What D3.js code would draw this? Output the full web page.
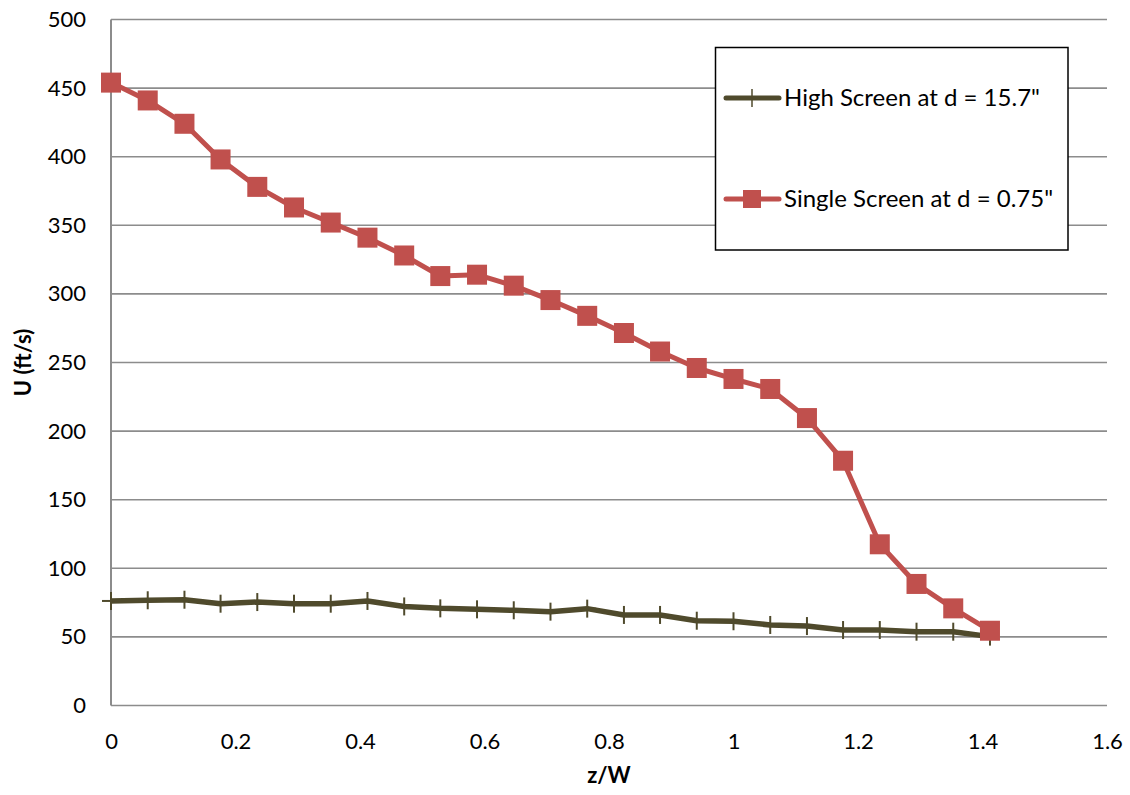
<!DOCTYPE html>
<html><head><meta charset="utf-8">
<script src="https://cdn.jsdelivr.net/npm/d3@7"></script>
<style>body{margin:0;background:#fff}svg{display:block}text{font-family:Lato,"Open Sans",sans-serif}</style>
</head><body><div id="c"></div>
<script>
const zw = [0,0.059,0.118,0.176,0.235,0.294,0.353,0.412,0.471,0.529,0.588,0.647,0.706,0.765,0.824,0.882,0.941,1.0,1.059,1.118,1.176,1.235,1.294,1.353,1.412];
const highScreen = [76.2,76.7,77.1,74.2,75.4,74.2,74.2,76.2,72.2,70.8,70.1,69.4,68.4,70.6,66,66,61.8,61.4,58.7,57.9,55,55,53.8,53.8,50.2];
const singleScreen = [454,441,424,398,378,363,352,341,328,313,314,306,295.5,284,271.5,258,246,238,230.7,209.5,178.4,117.5,88.6,70.8,54.5];
const seriesNames = ['High Screen at d = 15.7"','Single Screen at d = 0.75"'];
const xTicks = [0,0.2,0.4,0.6,0.8,1,1.2,1.4,1.6];
const yTicks = [0,50,100,150,200,250,300,350,400,450,500];

const W=1130,H=795, L=111, R=1107, T=19.5, B=705.5;
const svg=d3.select('#c').append('svg').attr('width',W).attr('height',H);
const x=d3.scaleLinear().domain([0,1.6]).range([L,R]);
const y=d3.scaleLinear().domain([0,500]).range([B,T]);

// gridlines
svg.append('g').selectAll('line').data(yTicks).join('line')
 .attr('x1',L).attr('x2',R).attr('y1',d=>y(d)).attr('y2',d=>y(d))
 .attr('stroke','#8c8c8c').attr('stroke-width',1.6);
svg.append('line').attr('x1',L).attr('x2',L).attr('y1',T).attr('y2',B).attr('stroke','#8c8c8c').attr('stroke-width',2);

// axes labels
const ya=svg.append('g').attr('transform',`translate(${L},0)`).call(d3.axisLeft(y).tickValues(yTicks).tickSize(0).tickPadding(25));
ya.select('.domain').remove();
ya.selectAll('text').attr('font-size',22).attr('fill','#000').attr('font-family','Lato');
const xa=svg.append('g').attr('transform',`translate(0,${B})`).call(d3.axisBottom(x).tickValues(xTicks).tickFormat(d3.format('~g')).tickSize(0));
xa.select('.domain').remove();
xa.selectAll('text').attr('font-size',22).attr('fill','#000').attr('font-family','Lato').attr('y',43.5).attr('dy',0);

svg.append('text').attr('x',(L+R)/2).attr('y',783).attr('text-anchor','middle').attr('font-size',22).attr('font-weight','bold').text('z/W');
svg.append('text').attr('transform',`translate(31,${(T+B)/2}) rotate(-90)`).attr('text-anchor','middle').attr('font-size',22).attr('font-weight','bold').text('U (ft/s)');

const dark='#4f4a2c', red='#c0504d';
const line=d3.line().x(d=>x(d[0])).y(d=>y(d[1]));
const hs=zw.map((z,i)=>[z,highScreen[i]]);
const ss=zw.map((z,i)=>[z,singleScreen[i]]);

svg.append('path').datum(hs).attr('d',line).attr('fill','none').attr('stroke',dark).attr('stroke-width',5.5).attr('stroke-linejoin','round');
const plus=svg.append('g').selectAll('g').data(hs).join('g').attr('transform',d=>`translate(${x(d[0])},${y(d[1])})`);
plus.append('line').attr('x1',0).attr('x2',0).attr('y1',-9).attr('y2',9).attr('stroke',dark).attr('stroke-width',2);
plus.append('line').attr('x1',-9).attr('x2',9).attr('y1',0).attr('y2',0).attr('stroke',dark).attr('stroke-width',2);

svg.append('path').datum(ss).attr('d',line).attr('fill','none').attr('stroke',red).attr('stroke-width',5).attr('stroke-linejoin','round');
svg.append('g').selectAll('rect').data(ss).join('rect')
 .attr('x',d=>x(d[0])-10).attr('y',d=>y(d[1])-10).attr('width',20).attr('height',20).attr('fill',red);

// legend
const lg=svg.append('g');
lg.append('rect').attr('x',715.5).attr('y',47.5).attr('width',352.5).attr('height',202.5).attr('fill','#fff').attr('stroke','#000').attr('stroke-width',1.5);
const entries=[{n:seriesNames[0],c:dark,y:98,m:'plus'},{n:seriesNames[1],c:red,y:199,m:'sq'}];
entries.forEach(e=>{
  lg.append('line').attr('x1',726).attr('x2',779).attr('y1',e.y).attr('y2',e.y).attr('stroke',e.c).attr('stroke-width',5).attr('stroke-linecap','round');
  if(e.m==='plus') lg.append('line').attr('x1',752).attr('x2',752).attr('y1',e.y-9).attr('y2',e.y+9).attr('stroke',e.c).attr('stroke-width',1.5);
  else lg.append('rect').attr('x',743).attr('y',e.y-9).attr('width',18).attr('height',18).attr('fill',e.c);
  lg.append('text').attr('x',784).attr('y',e.y+7.5).attr('font-size',24).attr('fill','#000').text(e.n);
});
</script></body></html>
